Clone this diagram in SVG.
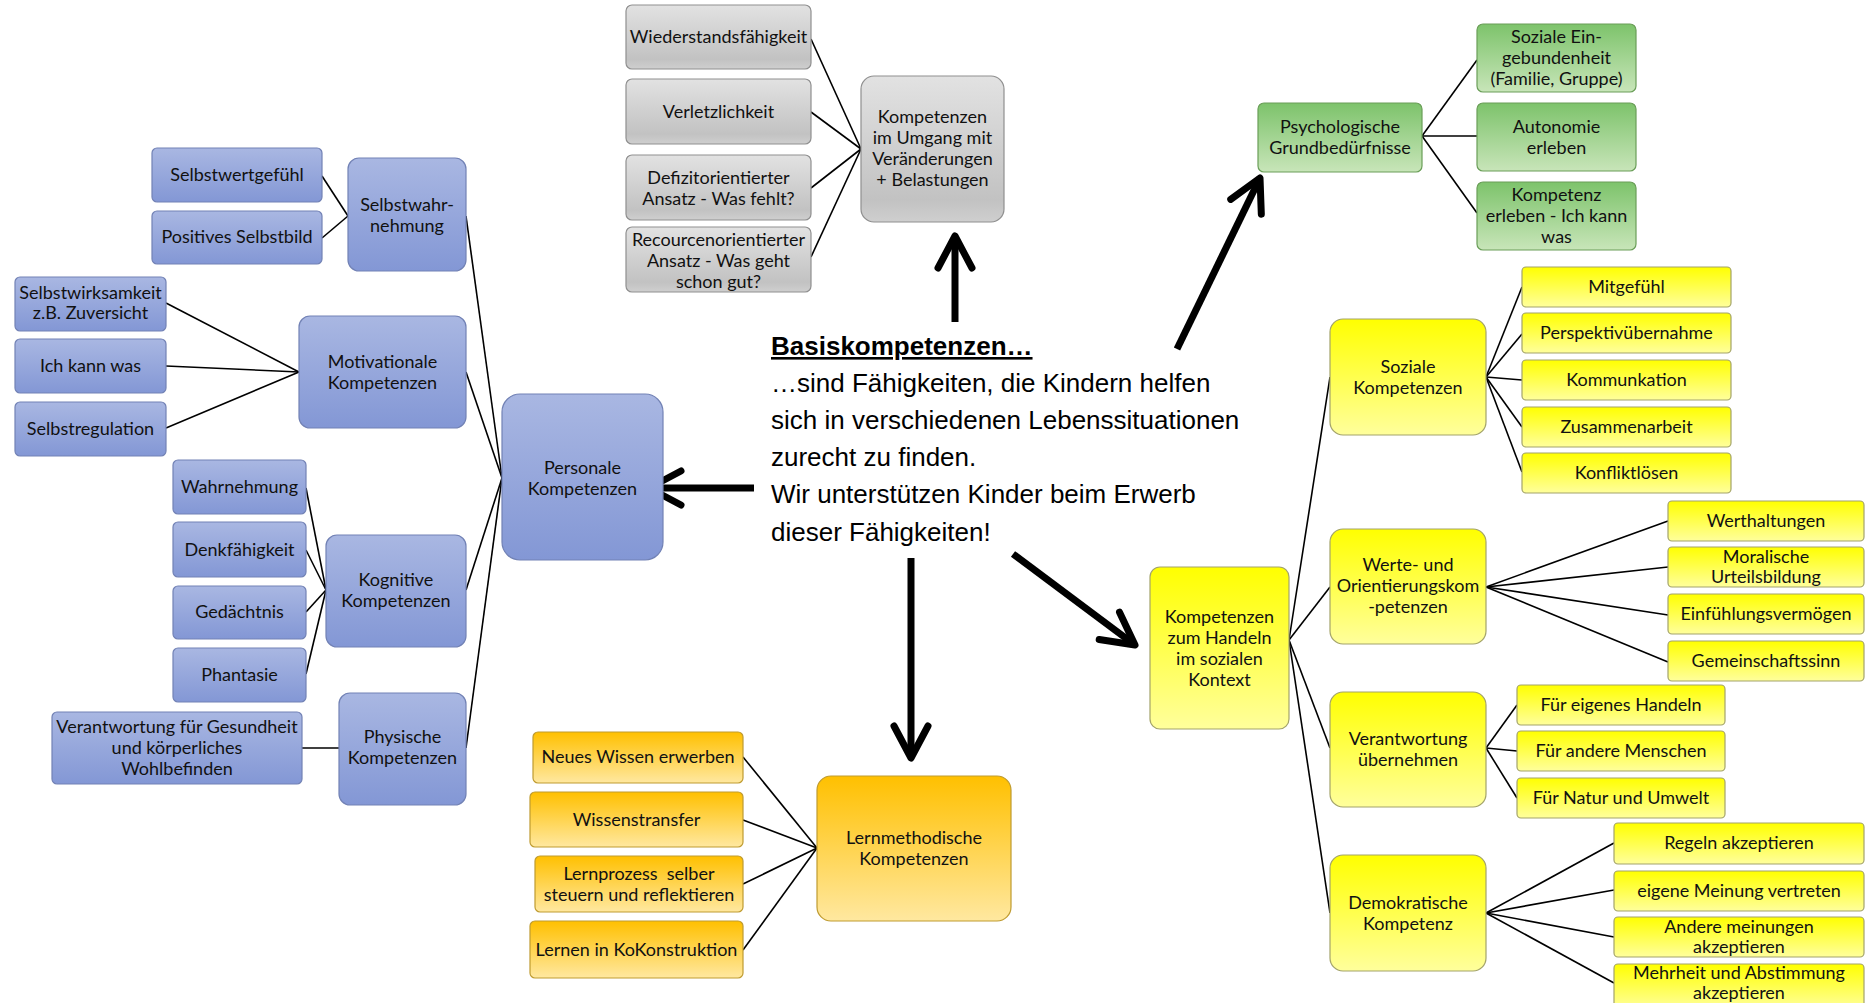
<svg xmlns="http://www.w3.org/2000/svg" width="1868" height="1003" viewBox="0 0 1868 1003">
<defs>
<linearGradient id="gBlue" x1="0" y1="0" x2="0" y2="1"><stop offset="0" stop-color="#A9B7E2"/><stop offset="1" stop-color="#8397D5"/></linearGradient>
<linearGradient id="gGrey" x1="0" y1="0" x2="0" y2="1"><stop offset="0" stop-color="#E2E2E2"/><stop offset="0.85" stop-color="#C2C2C2"/><stop offset="1" stop-color="#CFCFCF"/></linearGradient>
<linearGradient id="gGreen" x1="0" y1="0" x2="0" y2="1"><stop offset="0" stop-color="#7DC36B"/><stop offset="1" stop-color="#C8E5B9"/></linearGradient>
<linearGradient id="gOrange" x1="0" y1="0" x2="0" y2="1"><stop offset="0" stop-color="#FFC000"/><stop offset="1" stop-color="#FFE8A0"/></linearGradient>
<linearGradient id="gYellow" x1="0" y1="0" x2="0" y2="1"><stop offset="0" stop-color="#FFFF00"/><stop offset="1" stop-color="#FFFF9C"/></linearGradient>
<marker id="chev" markerUnits="userSpaceOnUse" markerWidth="60" markerHeight="60" viewBox="-45 -30 60 60" refX="0" refY="0" orient="auto">
<path d="M-32,-17 L0,0 L-32,17" fill="none" stroke="#000" stroke-width="7" stroke-linecap="round" stroke-linejoin="round"/>
</marker>
<style>
.b rect{fill:url(#gBlue);stroke:#7282B5;stroke-width:1.2}
.g rect{fill:url(#gGrey);stroke:#8F8F8F;stroke-width:1.2}
.gr rect{fill:url(#gGreen);stroke:#6A9E58;stroke-width:1.2}
.o rect{fill:url(#gOrange);stroke:#BF9B30;stroke-width:1.2}
.y rect{fill:url(#gYellow);stroke:#A3A36A;stroke-width:1.2}
text.t{font-family:Lato,"Noto Sans",sans-serif;font-size:18px;fill:#111;text-anchor:middle}
.conn line{stroke:#000;stroke-width:1.6}
.arrows line{stroke:#000;stroke-width:7;marker-end:url(#chev)}
.para{font-family:"Liberation Sans",Arial,sans-serif;font-size:26px;fill:#000}
</style>
</defs>
<rect width="1868" height="1003" fill="#fff"/>

<g class="conn">
<line x1="322" y1="176" x2="348" y2="216"/><line x1="322" y1="238" x2="348" y2="216"/>
<line x1="166" y1="303" x2="299" y2="372"/><line x1="166" y1="366" x2="299" y2="372"/><line x1="166" y1="428" x2="299" y2="372"/>
<line x1="306" y1="488" x2="326" y2="590"/><line x1="306" y1="550" x2="326" y2="590"/><line x1="306" y1="612" x2="326" y2="590"/><line x1="306" y1="674" x2="326" y2="590"/>
<line x1="302" y1="748" x2="339" y2="748"/>
<line x1="466" y1="216" x2="502" y2="478"/><line x1="466" y1="372" x2="502" y2="478"/><line x1="466" y1="590" x2="502" y2="478"/><line x1="466" y1="748" x2="502" y2="478"/>
<line x1="811" y1="39" x2="861" y2="149"/><line x1="811" y1="112" x2="861" y2="149"/><line x1="811" y1="188" x2="861" y2="149"/><line x1="811" y1="257" x2="861" y2="149"/>
<line x1="1422" y1="136" x2="1477" y2="60"/><line x1="1422" y1="136" x2="1477" y2="136"/><line x1="1422" y1="136" x2="1477" y2="213"/>
<line x1="743" y1="757" x2="817" y2="848"/><line x1="743" y1="820" x2="817" y2="848"/><line x1="743" y1="884" x2="817" y2="848"/><line x1="743" y1="950" x2="817" y2="848"/>
<line x1="1289" y1="640" x2="1330" y2="377"/><line x1="1289" y1="640" x2="1330" y2="587"/><line x1="1289" y1="640" x2="1330" y2="748"/><line x1="1289" y1="640" x2="1330" y2="913"/>
<line x1="1486" y1="377" x2="1522" y2="287"/><line x1="1486" y1="377" x2="1522" y2="334"/><line x1="1486" y1="377" x2="1522" y2="380"/><line x1="1486" y1="377" x2="1522" y2="427"/><line x1="1486" y1="377" x2="1522" y2="472"/>
<line x1="1486" y1="587" x2="1668" y2="521"/><line x1="1486" y1="587" x2="1668" y2="567"/><line x1="1486" y1="587" x2="1668" y2="615"/><line x1="1486" y1="587" x2="1668" y2="662"/>
<line x1="1486" y1="748" x2="1517" y2="705"/><line x1="1486" y1="748" x2="1517" y2="751"/><line x1="1486" y1="748" x2="1517" y2="798"/>
<line x1="1486" y1="913" x2="1614" y2="843"/><line x1="1486" y1="913" x2="1614" y2="890"/><line x1="1486" y1="913" x2="1614" y2="937"/><line x1="1486" y1="913" x2="1614" y2="983"/>
</g>

<g class="arrows">
<line x1="955" y1="322" x2="955" y2="236"/>
<line x1="1177" y1="349" x2="1260" y2="178"/>
<line x1="754" y1="488" x2="649" y2="488"/>
<line x1="911" y1="558" x2="911" y2="758"/>
<line x1="1013" y1="554" x2="1135" y2="645"/>
</g>

<g id="center-text">
<text class="para" x="771" y="355" font-weight="bold" text-decoration="underline">Basiskompetenzen…</text>
<text class="para" x="771" y="392">…sind Fähigkeiten, die Kindern helfen</text>
<text class="para" x="771" y="429">sich in verschiedenen Lebenssituationen</text>
<text class="para" x="771" y="466">zurecht zu finden.</text>
<text class="para" x="771" y="503">Wir unterstützen Kinder beim Erwerb</text>
<text class="para" x="771" y="541">dieser Fähigkeiten!</text>
</g>

<!-- Blue -->
<g id="n-selbstwert" class="b"><rect x="152" y="148" width="170" height="54" rx="5"/><text class="t" x="237" y="181">Selbstwertgefühl</text></g>
<g id="n-selbstbild" class="b"><rect x="152" y="211" width="170" height="53" rx="5"/><text class="t" x="237" y="243">Positives Selbstbild</text></g>
<g id="n-selbstwahr" class="b"><rect x="348" y="158" width="118" height="113" rx="11"/><text class="t" x="407" y="211">Selbstwahr-<tspan x="407" dy="21">nehmung</tspan></text></g>
<g id="n-selbstwirk" class="b"><rect x="15" y="277" width="151" height="54" rx="5"/><text class="t" x="90.5" y="299">Selbstwirksamkeit<tspan x="90.5" dy="20">z.B. Zuversicht</tspan></text></g>
<g id="n-ichkann" class="b"><rect x="15" y="339" width="151" height="54" rx="5"/><text class="t" x="90.5" y="372">Ich kann was</text></g>
<g id="n-selbstreg" class="b"><rect x="15" y="402" width="151" height="54" rx="5"/><text class="t" x="90.5" y="435">Selbstregulation</text></g>
<g id="n-motiv" class="b"><rect x="299" y="316" width="167" height="112" rx="11"/><text class="t" x="382.5" y="368">Motivationale<tspan x="382.5" dy="21">Kompetenzen</tspan></text></g>
<g id="n-wahrn" class="b"><rect x="173" y="460" width="133" height="54" rx="5"/><text class="t" x="239.5" y="493">Wahrnehmung</text></g>
<g id="n-denk" class="b"><rect x="173" y="522" width="133" height="55" rx="5"/><text class="t" x="239.5" y="556">Denkfähigkeit</text></g>
<g id="n-gedaecht" class="b"><rect x="173" y="586" width="133" height="53" rx="5"/><text class="t" x="239.5" y="618">Gedächtnis</text></g>
<g id="n-phant" class="b"><rect x="173" y="648" width="133" height="54" rx="5"/><text class="t" x="239.5" y="681">Phantasie</text></g>
<g id="n-kogn" class="b"><rect x="326" y="535" width="140" height="112" rx="11"/><text class="t" x="396" y="586">Kognitive<tspan x="396" dy="21">Kompetenzen</tspan></text></g>
<g id="n-gesund" class="b"><rect x="52" y="712" width="250" height="72" rx="5"/><text class="t" x="177" y="733">Verantwortung für Gesundheit<tspan x="177" dy="21">und körperliches</tspan><tspan x="177" dy="21">Wohlbefinden</tspan></text></g>
<g id="n-phys" class="b"><rect x="339" y="693" width="127" height="112" rx="11"/><text class="t" x="402.5" y="743">Physische<tspan x="402.5" dy="21">Kompetenzen</tspan></text></g>
<g id="n-personal" class="b"><rect x="502" y="394" width="161" height="166" rx="18"/><text class="t" x="582.5" y="474">Personale<tspan x="582.5" dy="21">Kompetenzen</tspan></text></g>

<!-- Grey -->
<g id="n-wider" class="g"><rect x="626" y="5" width="185" height="64" rx="6"/><text class="t" x="718.5" y="43">Wiederstandsfähigkeit</text></g>
<g id="n-verletz" class="g"><rect x="626" y="79" width="185" height="65" rx="6"/><text class="t" x="718.5" y="118">Verletzlichkeit</text></g>
<g id="n-defizit" class="g"><rect x="626" y="155" width="185" height="65" rx="6"/><text class="t" x="718.5" y="184">Defizitorientierter<tspan x="718.5" dy="21">Ansatz - Was fehlt?</tspan></text></g>
<g id="n-recource" class="g"><rect x="626" y="227" width="185" height="65" rx="6"/><text class="t" x="718.5" y="246">Recourcenorientierter<tspan x="718.5" dy="21">Ansatz - Was geht</tspan><tspan x="718.5" dy="21">schon gut?</tspan></text></g>
<g id="n-umgang" class="g"><rect x="861" y="76" width="143" height="146" rx="13"/><text class="t" x="932.5" y="123">Kompetenzen<tspan x="932.5" dy="21">im Umgang mit</tspan><tspan x="932.5" dy="21">Veränderungen</tspan><tspan x="932.5" dy="21">+ Belastungen</tspan></text></g>

<!-- Green -->
<g id="n-psych" class="gr"><rect x="1258" y="103" width="164" height="69" rx="6"/><text class="t" x="1340" y="133">Psychologische<tspan x="1340" dy="21">Grundbedürfnisse</tspan></text></g>
<g id="n-sozein" class="gr"><rect x="1477" y="24" width="159" height="68" rx="6"/><text class="t" x="1556.5" y="43">Soziale Ein-<tspan x="1556.5" dy="21">gebundenheit</tspan><tspan x="1556.5" dy="21">(Familie, Gruppe)</tspan></text></g>
<g id="n-autonom" class="gr"><rect x="1477" y="103" width="159" height="68" rx="6"/><text class="t" x="1556.5" y="133">Autonomie<tspan x="1556.5" dy="21">erleben</tspan></text></g>
<g id="n-kompetenz" class="gr"><rect x="1477" y="182" width="159" height="68" rx="6"/><text class="t" x="1556.5" y="201">Kompetenz<tspan x="1556.5" dy="21">erleben - Ich kann</tspan><tspan x="1556.5" dy="21">was</tspan></text></g>

<!-- Orange -->
<g id="n-neues" class="o"><rect x="533" y="732" width="210" height="51" rx="5"/><text class="t" x="638" y="763">Neues Wissen erwerben</text></g>
<g id="n-transfer" class="o"><rect x="530" y="792" width="213" height="55" rx="5"/><text class="t" x="636.5" y="826">Wissenstransfer</text></g>
<g id="n-lernproz" class="o"><rect x="535" y="856" width="208" height="56" rx="5"/><text class="t" x="639" y="880">Lernprozess&#160; selber<tspan x="639" dy="21">steuern und reflektieren</tspan></text></g>
<g id="n-kokon" class="o"><rect x="530" y="921" width="213" height="57" rx="5"/><text class="t" x="636.5" y="956">Lernen in KoKonstruktion</text></g>
<g id="n-lernmeth" class="o"><rect x="817" y="776" width="194" height="145" rx="14"/><text class="t" x="914" y="844">Lernmethodische<tspan x="914" dy="21">Kompetenzen</tspan></text></g>

<!-- Yellow -->
<g id="n-handeln" class="y"><rect x="1150" y="567" width="139" height="162" rx="10"/><text class="t" x="1219.5" y="623">Kompetenzen<tspan x="1219.5" dy="21">zum Handeln</tspan><tspan x="1219.5" dy="21">im sozialen</tspan><tspan x="1219.5" dy="21">Kontext</tspan></text></g>
<g id="n-sozial" class="y"><rect x="1330" y="319" width="156" height="116" rx="13"/><text class="t" x="1408" y="373">Soziale<tspan x="1408" dy="21">Kompetenzen</tspan></text></g>
<g id="n-mitgef" class="y"><rect x="1522" y="267" width="209" height="40" rx="4"/><text class="t" x="1626.5" y="293">Mitgefühl</text></g>
<g id="n-persp" class="y"><rect x="1522" y="313" width="209" height="40" rx="4"/><text class="t" x="1626.5" y="339">Perspektivübernahme</text></g>
<g id="n-kommun" class="y"><rect x="1522" y="360" width="209" height="40" rx="4"/><text class="t" x="1626.5" y="386">Kommunkation</text></g>
<g id="n-zusamm" class="y"><rect x="1522" y="407" width="209" height="40" rx="4"/><text class="t" x="1626.5" y="433">Zusammenarbeit</text></g>
<g id="n-konflikt" class="y"><rect x="1522" y="453" width="209" height="40" rx="4"/><text class="t" x="1626.5" y="479">Konfliktlösen</text></g>
<g id="n-werte" class="y"><rect x="1330" y="529" width="156" height="115" rx="13"/><text class="t" x="1408" y="571">Werte- und<tspan x="1408" dy="21">Orientierungskom</tspan><tspan x="1408" dy="21">-petenzen</tspan></text></g>
<g id="n-werthalt" class="y"><rect x="1668" y="501" width="196" height="40" rx="4"/><text class="t" x="1766" y="527">Werthaltungen</text></g>
<g id="n-moral" class="y"><rect x="1668" y="547" width="196" height="40" rx="4"/><text class="t" x="1766" y="563">Moralische<tspan x="1766" dy="20">Urteilsbildung</tspan></text></g>
<g id="n-einfuehl" class="y"><rect x="1668" y="594" width="196" height="40" rx="4"/><text class="t" x="1766" y="620">Einfühlungsvermögen</text></g>
<g id="n-gemein" class="y"><rect x="1668" y="641" width="196" height="40" rx="4"/><text class="t" x="1766" y="667">Gemeinschaftssinn</text></g>
<g id="n-verantw" class="y"><rect x="1330" y="692" width="156" height="115" rx="13"/><text class="t" x="1408" y="745">Verantwortung<tspan x="1408" dy="21">übernehmen</tspan></text></g>
<g id="n-eigenes" class="y"><rect x="1517" y="685" width="208" height="40" rx="4"/><text class="t" x="1621" y="711">Für eigenes Handeln</text></g>
<g id="n-andere" class="y"><rect x="1517" y="731" width="208" height="40" rx="4"/><text class="t" x="1621" y="757">Für andere Menschen</text></g>
<g id="n-natur" class="y"><rect x="1517" y="778" width="208" height="40" rx="4"/><text class="t" x="1621" y="804">Für Natur und Umwelt</text></g>
<g id="n-demokr" class="y"><rect x="1330" y="855" width="156" height="116" rx="13"/><text class="t" x="1408" y="909">Demokratische<tspan x="1408" dy="21">Kompetenz</tspan></text></g>
<g id="n-regeln" class="y"><rect x="1614" y="823" width="250" height="41" rx="4"/><text class="t" x="1739" y="849">Regeln akzeptieren</text></g>
<g id="n-meinung" class="y"><rect x="1614" y="871" width="250" height="40" rx="4"/><text class="t" x="1739" y="897">eigene Meinung vertreten</text></g>
<g id="n-anderem" class="y"><rect x="1614" y="917" width="250" height="40" rx="4"/><text class="t" x="1739" y="933">Andere meinungen<tspan x="1739" dy="20">akzeptieren</tspan></text></g>
<g id="n-mehrheit" class="y"><rect x="1614" y="964" width="250" height="45" rx="4"/><text class="t" x="1739" y="979">Mehrheit und Abstimmung<tspan x="1739" dy="20">akzeptieren</tspan></text></g>
</svg>
